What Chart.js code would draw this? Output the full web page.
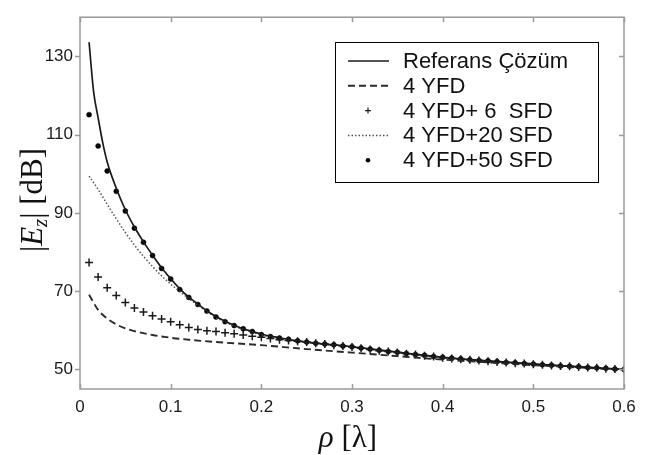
<!DOCTYPE html>
<html lang="tr">
<head>
<meta charset="UTF-8">
<title>Ez vs rho</title>
<script src="https://cdn.jsdelivr.net/npm/chart.js"></script>
<style>
  body { margin: 0; background: #fff; }
  #wrap { width: 650px; height: 455px; position: relative; }
</style>
</head>
<body>
<div id="wrap"><canvas id="chart"></canvas></div>
<script>
// Referans Çözüm (solid line)
const rhoRef = [0.01, 0.015, 0.02, 0.025, 0.03, 0.04, 0.05, 0.06, 0.07, 0.08, 0.09, 0.10, 0.11, 0.12, 0.13, 0.14, 0.15, 0.16, 0.17, 0.18, 0.19, 0.20, 0.22, 0.24, 0.26, 0.28, 0.30, 0.35, 0.40, 0.45, 0.50, 0.55, 0.60];
const refVals = [133.6, 121.0, 114.3, 108.0, 103.0, 96.3, 90.8, 86.4, 82.6, 79.2, 76.0, 73.2, 70.6, 68.5, 66.7, 65.0, 63.5, 62.3, 61.3, 60.4, 59.7, 59.0, 58.1, 57.3, 56.7, 56.3, 55.8, 54.4, 53.1, 52.2, 51.4, 50.7, 50.0];

// 4 YFD (dashed)
const rho4 = [0.01, 0.02, 0.03, 0.04, 0.05, 0.06, 0.08, 0.10, 0.12, 0.15, 0.20, 0.25, 0.30, 0.35, 0.40, 0.45, 0.50, 0.55, 0.60];
const yfd4 = [69.1, 65.2, 63.0, 61.5, 60.5, 59.8, 58.8, 58.1, 57.6, 57.0, 56.2, 55.2, 54.3, 53.4, 52.5, 51.8, 51.1, 50.5, 49.9];

// 4 YFD+20 SFD (dotted)
const rho20 = [0.01, 0.02, 0.03, 0.04, 0.05, 0.06, 0.07, 0.08, 0.09, 0.10, 0.11, 0.12, 0.13, 0.14, 0.15, 0.16, 0.17, 0.18, 0.19, 0.20, 0.25, 0.30, 0.35, 0.40, 0.45, 0.50, 0.55, 0.60];
const sfd20 = [99.4, 96.0, 92.2, 88.5, 85.0, 81.8, 78.9, 76.3, 73.9, 71.8, 69.9, 68.1, 66.4, 64.8, 63.3, 62.1, 61.1, 60.2, 59.5, 58.8, 56.9, 55.7, 54.3, 53.0, 52.1, 51.3, 50.6, 50.0];

// marker series sample points
const rhoPts = [0.01, 0.02, 0.03, 0.04, 0.05, 0.06, 0.07, 0.08, 0.09, 0.10,
                0.11, 0.12, 0.13, 0.14, 0.15, 0.16, 0.17, 0.18, 0.19, 0.20,
                0.21, 0.22, 0.23, 0.24, 0.25, 0.26, 0.27, 0.28, 0.29, 0.30,
                0.31, 0.32, 0.33, 0.34, 0.35, 0.36, 0.37, 0.38, 0.39, 0.40,
                0.41, 0.42, 0.43, 0.44, 0.45, 0.46, 0.47, 0.48, 0.49, 0.50,
                0.51, 0.52, 0.53, 0.54, 0.55, 0.56, 0.57, 0.58, 0.59, 0.60];

// 4 YFD+ 6 SFD (plus markers)
const sfd6 = [77.3, 73.6, 70.9, 68.9, 67.1, 65.7, 64.7, 63.7, 62.9, 62.2,
              61.4, 60.7, 60.2, 59.9, 59.7, 59.4, 59.1, 58.8, 58.5, 58.2,
              57.9, 57.6, 57.4, 57.2, 57.0, 56.7, 56.5, 56.2, 56.0, 55.7,
              55.4, 55.1, 54.8, 54.6, 54.3, 54.0, 53.8, 53.5, 53.3, 53.0,
              52.8, 52.6, 52.5, 52.3, 52.1, 51.9, 51.8, 51.6, 51.5, 51.3,
              51.2, 51.0, 50.9, 50.8, 50.6, 50.5, 50.4, 50.2, 50.1, 50.0];

// 4 YFD+50 SFD (dot markers)
const sfd50 = [115.1, 107.1, 100.7, 95.5, 90.5, 86.1, 82.5, 79.1, 75.8, 73.1,
               70.4, 68.4, 66.6, 64.9, 63.4, 62.2, 61.2, 60.4, 59.7, 58.9,
               58.4, 58.0, 57.7, 57.3, 57.0, 56.7, 56.5, 56.3, 56.0, 55.8,
               55.5, 55.2, 54.9, 54.6, 54.4, 54.1, 53.8, 53.6, 53.3, 53.1,
               52.9, 52.7, 52.5, 52.3, 52.2, 52.0, 51.8, 51.7, 51.5, 51.4,
               51.2, 51.1, 50.9, 50.8, 50.7, 50.5, 50.4, 50.3, 50.1, 50.0];

const yTicks = [50, 70, 90, 110, 130];
const labels = ['Referans Çözüm', '4 YFD', '4 YFD+ 6  SFD', '4 YFD+20 SFD', '4 YFD+50 SFD'];

const pairs = (xs, ys) => xs.map((x, i) => ({ x: x, y: ys[i] }));

// frame, ticks, axis titles and boxed legend
const decor = {
  id: 'decor',
  afterDraw(chart) {
    const ctx = chart.ctx;
    const { left, right, top, bottom } = chart.chartArea;
    const xs = chart.scales.x, ys = chart.scales.y;
    ctx.save();
    ctx.strokeStyle = '#9a9a9a';
    ctx.lineWidth = 1.5;
    ctx.setLineDash([]);
    ctx.strokeRect(left, top, right - left, bottom - top);
    ctx.beginPath();
    xs.ticks.forEach(t => {
      const p = Math.round(xs.getPixelForValue(t.value)) + 0.5;
      ctx.moveTo(p, bottom); ctx.lineTo(p, bottom - 5);
      ctx.moveTo(p, top); ctx.lineTo(p, top + 5);
    });
    ys.ticks.forEach(t => {
      const p = Math.round(ys.getPixelForValue(t.value)) + 0.5;
      ctx.moveTo(left, p); ctx.lineTo(left - 5, p);
      ctx.moveTo(right, p); ctx.lineTo(right - 5, p);
    });
    ctx.stroke();

    // y axis title |Ez| [dB]
    ctx.fillStyle = '#111';
    ctx.textBaseline = 'alphabetic';
    ctx.save();
    ctx.translate(42, 200);
    ctx.rotate(-Math.PI / 2);
    const up = '31px "Liberation Serif", serif';
    const it = 'italic 31px "Liberation Serif", serif';
    const sub = 'italic 21px "Liberation Serif", serif';
    const parts = [['|', up, 0], ['E', it, 0], ['z', sub, 5], ['|', up, 0], [' [dB]', up, 0]];
    let total = 0;
    parts.forEach(p => { ctx.font = p[1]; total += ctx.measureText(p[0]).width; });
    let cx = -total / 2;
    parts.forEach(p => {
      ctx.font = p[1];
      ctx.fillText(p[0], cx, p[2]);
      cx += ctx.measureText(p[0]).width;
    });
    ctx.restore();

    // x axis title rho [lambda]
    const xparts = [['ρ', 'italic 31px "Liberation Serif", serif'], [' [λ]', '31px "Liberation Serif", serif']];
    let w = 0;
    xparts.forEach(p => { ctx.font = p[1]; w += ctx.measureText(p[0]).width; });
    let px = 348 - w / 2;
    xparts.forEach(p => {
      ctx.font = p[1];
      ctx.fillText(p[0], px, 447);
      px += ctx.measureText(p[0]).width;
    });

    // legend box
    ctx.fillStyle = '#fff';
    ctx.fillRect(335, 42, 263, 140);
    ctx.strokeStyle = '#000';
    ctx.lineWidth = 1;
    ctx.strokeRect(335.5, 42.5, 263, 140);
    ctx.font = '22px "Liberation Sans", Arial, sans-serif';
    ctx.textBaseline = 'middle';
    chart.data.datasets.forEach((ds, i) => {
      const y = 61 + i * 24.8;
      ctx.strokeStyle = ds.borderColor;
      ctx.fillStyle = ds.borderColor;
      if (ds.showLine !== false) {
        ctx.lineWidth = ds.borderWidth;
        ctx.setLineDash(ds.borderDash || []);
        ctx.beginPath();
        ctx.moveTo(348, y); ctx.lineTo(389, y);
        ctx.stroke();
        ctx.setLineDash([]);
      } else if (ds.pointStyle === 'cross') {
        ctx.lineWidth = 1.2;
        ctx.beginPath();
        ctx.moveTo(365, y); ctx.lineTo(371, y);
        ctx.moveTo(368, y - 3); ctx.lineTo(368, y + 3);
        ctx.stroke();
      } else {
        ctx.beginPath();
        ctx.arc(368, y, 2.3, 0, Math.PI * 2);
        ctx.fill();
      }
      ctx.fillStyle = '#111';
      ctx.fillText(ds.label, 403, y + 1);
    });
    ctx.restore();
  }
};

new Chart(document.getElementById('chart'), {
  type: 'line',
  data: {
    datasets: [
      { label: labels[0], data: pairs(rhoRef, refVals), borderColor: '#1a1a1a', borderWidth: 1.7,
        pointRadius: 0, cubicInterpolationMode: 'monotone', fill: false },
      { label: labels[1], data: pairs(rho4, yfd4), borderColor: '#2a2a2a', borderWidth: 1.9, borderDash: [7, 4],
        pointRadius: 0, cubicInterpolationMode: 'monotone', fill: false },
      { label: labels[2], data: pairs(rhoPts, sfd6), borderColor: '#1a1a1a', showLine: false,
        pointStyle: 'cross', pointRadius: 4, pointBorderWidth: 1.5, pointBorderColor: '#1a1a1a' },
      { label: labels[3], data: pairs(rho20, sfd20), borderColor: '#555', borderWidth: 1.5, borderDash: [1.5, 2],
        pointRadius: 0, cubicInterpolationMode: 'monotone', fill: false },
      { label: labels[4], data: pairs(rhoPts, sfd50), borderColor: '#000', showLine: false,
        pointStyle: 'circle', pointRadius: 2.5, pointBackgroundColor: '#000', pointBorderColor: '#000', pointBorderWidth: 0.5 }
    ]
  },
  options: {
    responsive: true,
    maintainAspectRatio: false,
    animation: false,
    layout: { padding: { top: 7, right: 26, left: 0, bottom: 0 } },
    plugins: { legend: { display: false }, tooltip: { enabled: false } },
    scales: {
      x: {
        type: 'linear', min: 0, max: 0.6,
        grid: { display: false, drawTicks: false },
        border: { display: false },
        afterFit: s => { s.height = 66; },
        ticks: {
          stepSize: 0.1, padding: 8, color: '#1a1a1a', maxRotation: 0,
          font: { family: '"Liberation Sans", Arial, sans-serif', size: 17 },
          callback: v => (Math.abs(v) < 1e-9 ? '0' : v.toFixed(1))
        }
      },
      y: {
        type: 'linear', min: 45, max: 140,
        grid: { display: false, drawTicks: false },
        border: { display: false },
        afterFit: s => { s.width = 80; },
        afterBuildTicks: s => { s.ticks = yTicks.map(v => ({ value: v })); },
        ticks: {
          padding: 7, color: '#1a1a1a',
          font: { family: '"Liberation Sans", Arial, sans-serif', size: 17 }
        }
      }
    }
  },
  plugins: [decor]
});
</script>
</body>
</html>
